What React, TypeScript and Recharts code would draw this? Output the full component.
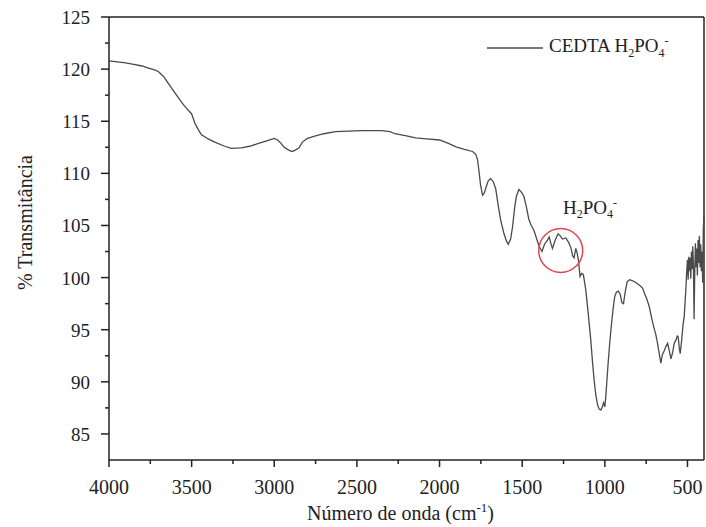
import { Legend, Line, LineChart, ReferenceDot, ReferenceLine, XAxis, YAxis } from 'recharts'

// FTIR spectrum: wavenumber (cm-1) and % transmittance
const wavenumbers = [
  4000, 3950, 3900, 3850, 3800, 3760, 3720, 3700, 3670, 3640, 3600, 3560, 3540, 3500, 3480, 3460,
  3440, 3400, 3360, 3300, 3260, 3200, 3150, 3100, 3050, 3000, 2980, 2960, 2940, 2920, 2895, 2875,
  2850, 2830, 2800, 2750, 2700, 2630, 2550, 2470, 2400, 2350, 2300, 2270, 2200, 2145, 2080, 2000,
  1950, 1900, 1850, 1800, 1780, 1770, 1762, 1752, 1740, 1730, 1720, 1705, 1690, 1675, 1660, 1645,
  1630, 1610, 1595, 1584, 1570, 1558, 1545, 1535, 1520, 1505, 1490, 1475, 1460, 1445, 1428, 1410,
  1398, 1380, 1365, 1347, 1337, 1327, 1317, 1300, 1283, 1270, 1256, 1236, 1220, 1206, 1195, 1186,
  1176, 1168, 1160, 1150, 1140, 1130, 1115, 1100, 1085, 1075, 1065, 1055, 1044, 1035, 1024, 1015,
  1008, 1000, 994, 988, 980, 970, 960, 950, 940, 930, 918, 907, 897, 887, 877, 865,
  850, 835, 820, 802, 785, 772, 760, 745, 731, 715, 700, 691, 680, 670, 661, 652,
  640, 630, 620, 610, 600, 590, 580, 570, 562, 556, 550, 544, 535, 528, 523, 520,
  515, 510, 505, 500, 496, 492, 488, 484, 480, 476, 472, 468, 464, 460, 456, 452,
  448, 444, 440, 436, 432, 428, 424, 420, 416, 412, 408, 404, 400,
]

const transmittance = [
  120.8, 120.7, 120.6, 120.45, 120.3, 120.1, 119.9, 119.75, 119.3, 118.6, 117.7, 116.8, 116.4, 115.7, 114.8, 114.2,
  113.7, 113.3, 113.0, 112.6, 112.4, 112.45, 112.6, 112.85, 113.1, 113.35, 113.2, 112.9, 112.5, 112.3, 112.1, 112.2,
  112.45, 113.0, 113.35, 113.6, 113.8, 114.0, 114.05, 114.1, 114.1, 114.1, 114.0, 113.8, 113.6, 113.4, 113.3, 113.2,
  112.9, 112.55, 112.3, 112.1, 111.8, 111.3, 110.3, 108.9, 107.9, 108.1, 108.6, 109.3, 109.5, 109.2, 108.5, 106.9,
  105.5, 104.2, 103.5, 103.2, 103.7, 104.9, 106.8, 107.8, 108.45, 108.2, 107.8, 106.8, 105.6, 105.0, 104.5, 103.6,
  103.0, 102.5, 103.2, 103.6, 103.9, 103.3, 102.8, 103.6, 104.2, 104.0, 103.7, 103.8, 103.4, 102.9, 102.1, 101.9,
  102.8, 102.4, 101.7, 100.1, 100.4, 100.3, 98.8, 96.5, 94.0, 92.0, 90.2, 88.8, 87.8, 87.4, 87.3, 87.6,
  88.0, 87.6, 88.6, 90.0, 91.8, 93.8, 95.5, 97.0, 98.2, 98.6, 98.7, 98.4, 97.6, 97.5, 98.6, 99.6,
  99.8, 99.7, 99.6, 99.4, 99.2, 99.0, 98.5, 97.9, 97.2, 96.0, 95.0, 94.5, 93.6, 92.6, 91.8, 92.6,
  93.0, 93.4, 93.7, 93.0, 92.2, 92.8, 93.7, 94.0, 94.4, 94.3, 93.3, 92.7, 94.0, 95.3, 95.9, 96.2,
  97.5, 98.8, 100.5, 101.7, 99.8, 102.0, 100.6, 101.9, 99.9, 102.5, 100.8, 103.0, 101.2, 96.0, 100.5, 103.3,
  101.0, 102.8, 100.2, 103.6, 101.4, 104.0, 101.0, 103.2, 100.6, 102.5, 99.5, 104.8, 105.9,
]

const xTicks = [4000, 3750, 3500, 3250, 3000, 2750, 2500, 2250, 2000, 1750, 1500, 1250, 1000, 750, 500]
const yTicks = [85, 87.5, 90, 92.5, 95, 97.5, 100, 102.5, 105, 107.5, 110, 112.5, 115, 117.5, 120, 122.5, 125]

const data = wavenumbers.map((w, i) => ({ w, t: transmittance[i] }))

const font = '"Liberation Serif", "Times New Roman", serif'
const axisColor = '#222'
const lineColor = '#4a4a4a'

const renderXTick = (props: any) => {
  const { x, y, payload } = props
  const major = payload.value % 500 === 0
  return (
    <g key={`xt-${payload.value}`}>
      <line x1={x} x2={x} y1={y} y2={y + (major ? 7 : 4)} stroke={axisColor} strokeWidth={1.5} />
      {major && (
        <text x={x} y={y + 34} textAnchor="middle" style={{ fontFamily: font, fontSize: 20 }} fill="#222">
          {payload.value}
        </text>
      )}
    </g>
  )
}

const renderYTick = (props: any) => {
  const { x, y, payload } = props
  const major = payload.value % 5 === 0
  return (
    <g key={`yt-${payload.value}`}>
      <line x1={x} x2={x - (major ? 8 : 4)} y1={y} y2={y} stroke={axisColor} strokeWidth={1.5} />
      {major && (
        <text x={x - 19} y={y + 7} textAnchor="end" style={{ fontFamily: font, fontSize: 19 }} fill="#222">
          {payload.value}
        </text>
      )}
    </g>
  )
}

const renderXTitle = (props: any) => {
  const vb = props.viewBox
  return (
    <text x={vb.x + vb.width / 2 - 6} y={vb.y + 60} textAnchor="middle" style={{ fontFamily: font, fontSize: 20 }} fill="#222">
      Número de onda (cm
      <tspan fontSize={13} dy={-8}>-1</tspan>
      <tspan dy={8}>)</tspan>
    </text>
  )
}

const renderYTitle = (props: any) => {
  const vb = props.viewBox
  const cx = vb.x + vb.width - 84
  const cy = vb.y + vb.height / 2 - 16
  return (
    <text
      x={cx}
      y={cy}
      transform={`rotate(-90 ${cx} ${cy})`}
      textAnchor="middle"
      dominantBaseline="central"
      style={{ fontFamily: font, fontSize: 20 }}
      fill="#222"
    >
      % Transmitância
    </text>
  )
}

function LegendBox() {
  return (
    <div style={{ display: 'flex', alignItems: 'center', fontFamily: font, fontSize: 19, color: '#222' }}>
      <svg width={56} height={4} style={{ marginRight: 6 }}>
        <line x1={0} x2={56} y1={2} y2={2} stroke={lineColor} strokeWidth={1.3} />
      </svg>
      <span>
        CEDTA H<sub style={{ fontSize: 12 }}>2</sub>PO<sub style={{ fontSize: 12 }}>4</sub>
        <sup style={{ fontSize: 12 }}>-</sup>
      </span>
    </div>
  )
}

const renderPeakLabel = (props: any) => {
  const vb = props.viewBox
  const cx = vb.x + vb.width / 2
  const cy = vb.y + vb.height / 2
  return (
    <text x={cx} y={cy} textAnchor="middle" style={{ fontFamily: font, fontSize: 19 }} fill="#222">
      H<tspan fontSize={12} dy={4}>2</tspan>
      <tspan dy={-4}>PO</tspan>
      <tspan fontSize={12} dy={4}>4</tspan>
      <tspan fontSize={12} dy={-11}>-</tspan>
    </text>
  )
}

export default function App() {
  return (
    <div style={{ position: 'absolute', left: 0, top: 0, background: '#fff', fontFamily: font }}>
      <LineChart width={706} height={527} data={data} margin={{ top: 17, right: 2, bottom: 7, left: 9 }}>
        <XAxis
          dataKey="w"
          type="number"
          domain={[400, 4000]}
          reversed
          ticks={xTicks}
          interval={0}
          tick={renderXTick}
          tickSize={0}
          tickMargin={0}
          tickLine={false}
          height={60}
          stroke={axisColor}
          strokeWidth={1.5}
          label={renderXTitle}
        />
        <YAxis
          type="number"
          domain={[82.5, 125]}
          ticks={yTicks}
          interval={0}
          tick={renderYTick}
          tickSize={0}
          tickMargin={0}
          tickLine={false}
          width={100}
          stroke={axisColor}
          strokeWidth={1.5}
          allowDataOverflow
          label={renderYTitle}
        />
        <ReferenceLine y={125} stroke={axisColor} strokeWidth={1.5} />
        <ReferenceLine x={400} stroke={axisColor} strokeWidth={1.5} />
        <Legend
          layout="horizontal"
          verticalAlign="middle"
          align="center"
          content={<LegendBox />}
          wrapperStyle={{ position: 'absolute', top: 34, left: 487, width: 'auto' }}
        />
        <Line
          type="linear"
          dataKey="t"
          stroke={lineColor}
          strokeWidth={1.3}
          dot={false}
          isAnimationActive={false}
        />
        <ReferenceDot x={1267} y={102.6} r={22} fill="none" stroke="#e0454f" strokeWidth={1.5} />
        <ReferenceDot x={1090} y={106.1} r={0} fill="none" stroke="none" label={renderPeakLabel} />
      </LineChart>
    </div>
  )
}
